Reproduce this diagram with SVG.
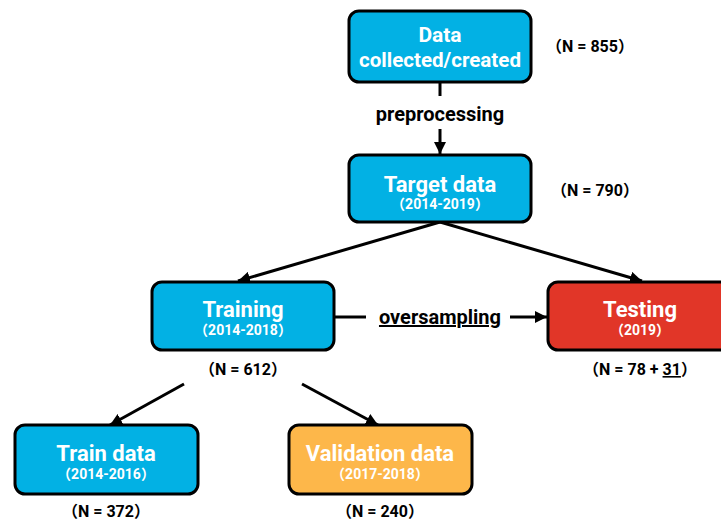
<svg xmlns="http://www.w3.org/2000/svg" width="721" height="521" viewBox="0 0 721 521">
<defs>
<style>
.box{stroke:#000;stroke-width:3}
.blue{fill:#02B1E4}
.red{fill:#E13628}
.orange{fill:#FDB74A}
.t{font-family:Roboto,"Noto Sans CJK SC",sans-serif;font-weight:bold;fill:#fff;text-anchor:middle}
.big{font-size:22px}
.sm{font-size:14px}
.n{font-family:Roboto,"Noto Sans CJK SC",sans-serif;font-weight:bold;font-size:16px;fill:#000;text-anchor:middle}
.lbl{font-family:Roboto,sans-serif;font-weight:bold;font-size:20px;fill:#000;text-anchor:middle}
.c{stroke:#000;stroke-width:3;fill:none}
</style>
<marker id="ah" viewBox="0 0 10 10" refX="10" refY="5" markerWidth="4" markerHeight="4" orient="auto" markerUnits="strokeWidth">
<path d="M0,0 L10,5 L0,10 z" fill="#000"/>
</marker>
</defs>
<rect width="721" height="521" fill="#fff"/>
<g id="connectors">
<line class="c" x1="440" y1="82" x2="440" y2="96"/>
<line class="c" x1="440" y1="129" x2="440" y2="154" marker-end="url(#ah)"/>
<line class="c" x1="440" y1="222" x2="238" y2="281" marker-end="url(#ah)"/>
<line class="c" x1="440" y1="222" x2="642" y2="281" marker-end="url(#ah)"/>
<line class="c" x1="334" y1="317" x2="366" y2="317"/>
<line class="c" x1="510" y1="317" x2="547" y2="317" marker-end="url(#ah)"/>
<line class="c" x1="184" y1="384" x2="110" y2="425" marker-end="url(#ah)"/>
<line class="c" x1="302" y1="384" x2="378" y2="425" marker-end="url(#ah)"/>
<text class="lbl" x="440" y="121">preprocessing</text>
<text class="lbl" x="440" y="324" text-decoration="underline">oversampling</text>
</g>
<g id="data">
<rect class="box blue" x="349" y="11" width="182" height="71" rx="10"/>
<text class="t" font-size="21" x="440" y="42">Data</text>
<text class="t" font-size="21" x="440" y="67" textLength="162" lengthAdjust="spacingAndGlyphs">collected/created</text>
<text class="n" x="590" y="52">（N = 855）</text>
</g>
<g id="target">
<rect class="box blue" x="349" y="155" width="182" height="67" rx="10"/>
<text class="t big" x="440" y="192">Target data</text>
<text class="t sm" x="440" y="209">（2014-2019）</text>
<text class="n" x="595" y="196">（N = 790）</text>
</g>
<g id="training">
<rect class="box blue" x="152" y="282" width="182" height="68" rx="10"/>
<text class="t big" x="243" y="317">Training</text>
<text class="t sm" x="243" y="335">（2014-2018）</text>
<text class="n" x="243" y="375">（N = 612）</text>
</g>
<g id="testing">
<rect class="box red" x="548" y="282" width="186" height="68" rx="10"/>
<text class="t big" x="640" y="317">Testing</text>
<text class="t sm" x="640" y="335">（2019）</text>
<text class="n" x="640" y="375">（N = 78 + <tspan text-decoration="underline">31</tspan>）</text>
</g>
<g id="train-data">
<rect class="box blue" x="15" y="425" width="183" height="69" rx="10"/>
<text class="t big" x="106" y="461">Train data</text>
<text class="t sm" x="106" y="479">（2014-2016）</text>
<text class="n" x="106" y="517">（N = 372）</text>
</g>
<g id="validation-data">
<rect class="box orange" x="289" y="425" width="183" height="69" rx="10"/>
<text class="t big" x="380" y="461">Validation data</text>
<text class="t sm" x="380" y="479">（2017-2018）</text>
<text class="n" x="380" y="517">（N = 240）</text>
</g>
</svg>
